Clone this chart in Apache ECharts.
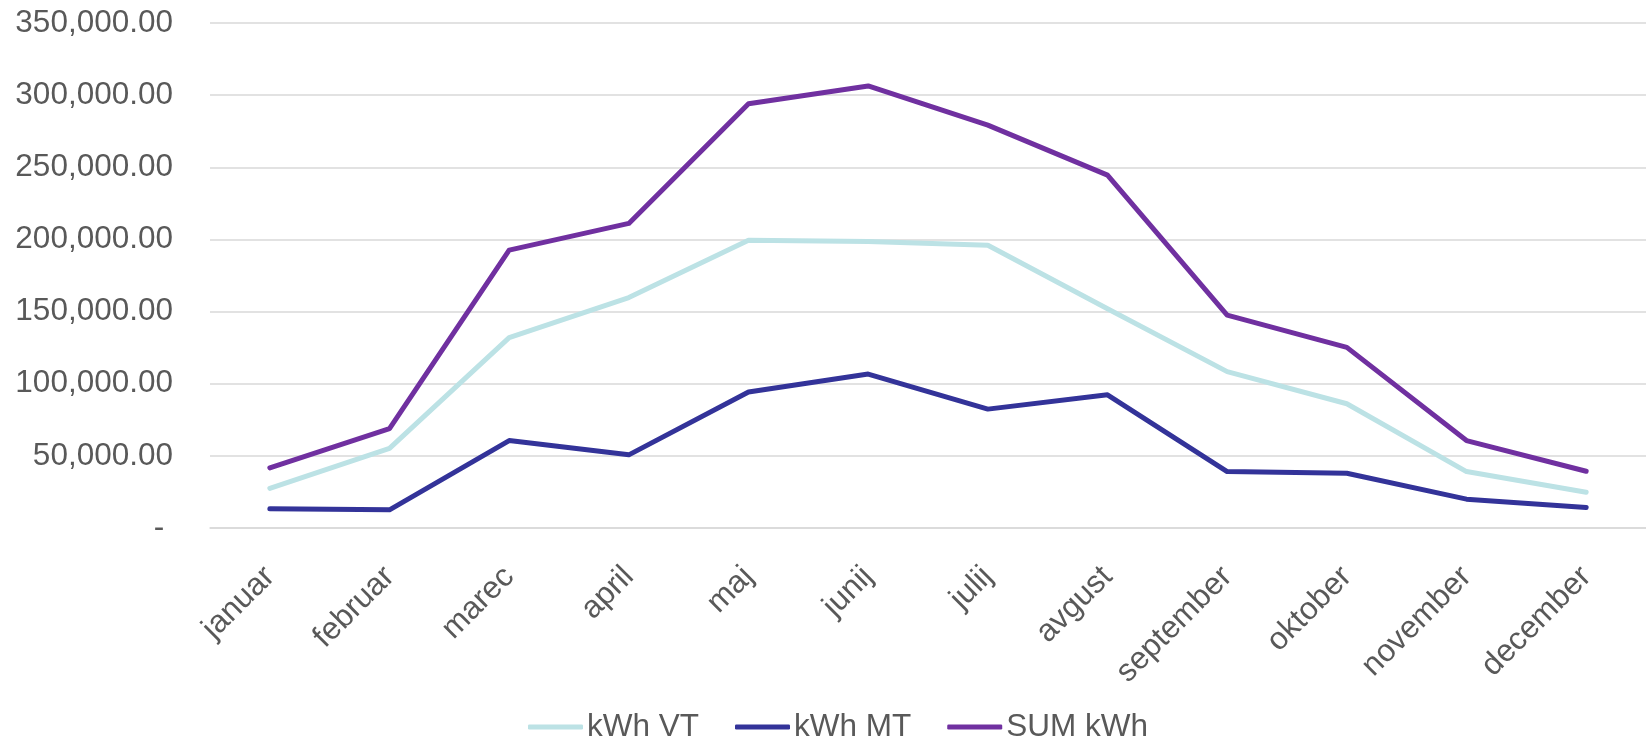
<!DOCTYPE html>
<html>
<head>
<meta charset="utf-8">
<script src="https://cdn.jsdelivr.net/npm/echarts@6/dist/echarts.min.js"></script>
<style>
html,body{margin:0;padding:0;background:#fff;}
#c{width:1646px;height:744px;}
</style>
</head>
<body>
<div id="c"></div>
<script>
const categories = ['januar','februar','marec','april','maj','junij','julij','avgust','september','oktober','november','december'];
const kwhVT = [27500, 55200, 131900, 159700, 199500, 198500, 196000, 152000, 108400, 86100, 39100, 24800];
const kwhMT = [13300, 12600, 60600, 50700, 94300, 106700, 82400, 92300, 39100, 37900, 20000, 14200];
const sumKwh = [41700, 68800, 192600, 211100, 294100, 306400, 279200, 244600, 147500, 125200, 60600, 39300];
const seriesNames = ['kWh VT', 'kWh MT', 'SUM kWh'];

const FONT = "'Liberation Sans', Arial, sans-serif";
const TXT = '#595959';
const colors = ['#BCE2E5', '#333399', '#7030A0'];

function fmt(v) {
  if (v === 0) return '- ';
  return v.toLocaleString('en-US', {minimumFractionDigits: 2, maximumFractionDigits: 2});
}

const chart = echarts.init(document.getElementById('c'), null, {renderer: 'canvas'});
const dataSets = [kwhVT, kwhMT, sumKwh];
chart.setOption({
  animation: false,
  backgroundColor: '#ffffff',
  color: colors,
  grid: {left: 210, right: 0, top: 23, bottom: 216, containLabel: false},
  legend: {
    left: 528, top: 711, padding: 0,
    itemWidth: 55, itemHeight: 5, itemGap: 36,
    textStyle: {fontFamily: FONT, fontSize: 31.5, color: TXT, padding: [0, 0, 0, -1]},
    data: seriesNames.map(n => ({name: n, icon: 'roundRect'}))
  },
  xAxis: {
    type: 'category',
    data: categories,
    boundaryGap: true,
    axisLine: {show: true, lineStyle: {color: '#D9D9D9', width: 1.5}},
    axisTick: {show: false},
    axisLabel: {rotate: 45, margin: 44, fontFamily: FONT, fontSize: 31.5, color: TXT, interval: 0}
  },
  yAxis: {
    type: 'value',
    min: 0, max: 350000, interval: 50000,
    axisLine: {show: false},
    axisTick: {show: false},
    splitLine: {lineStyle: {color: '#D9D9D9', width: 1.5}},
    axisLabel: {margin: 37, fontFamily: FONT, fontSize: 31.5, color: TXT, formatter: fmt}
  },
  series: dataSets.map((d, i) => ({
    name: seriesNames[i],
    type: 'line',
    data: d,
    symbol: 'none',
    lineStyle: {width: 5, color: colors[i], cap: 'round', join: 'round'},
    itemStyle: {color: colors[i]}
  }))
});
</script>
</body>
</html>
